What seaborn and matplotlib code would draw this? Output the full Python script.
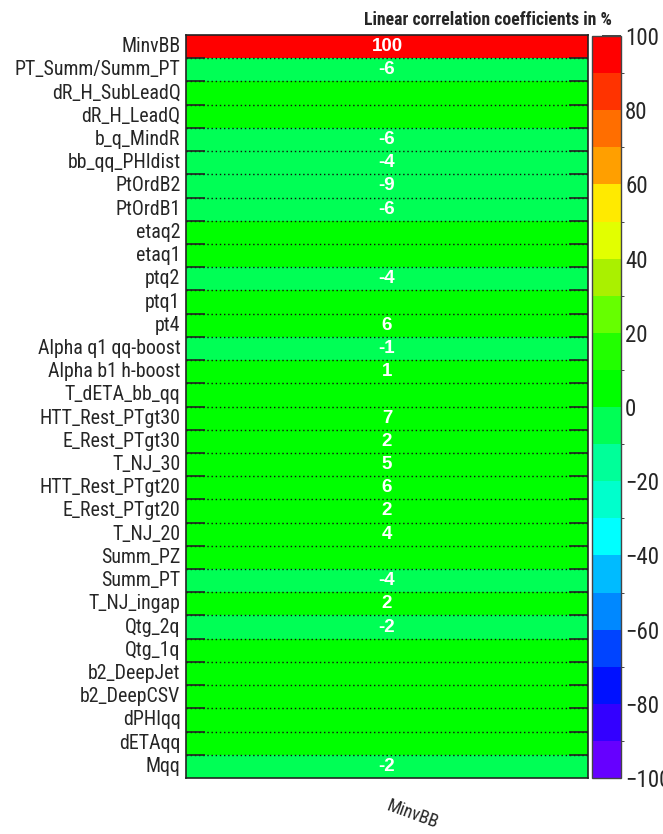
import numpy as np
import pandas as pd
import matplotlib
matplotlib.use("Agg")
import matplotlib.pyplot as plt
from matplotlib.colors import ListedColormap, BoundaryNorm
from matplotlib.ticker import FixedLocator
import seaborn as sns

variables = ["MinvBB", "PT_Summ/Summ_PT", "dR_H_SubLeadQ", "dR_H_LeadQ", "b_q_MindR",
             "bb_qq_PHIdist", "PtOrdB2", "PtOrdB1", "etaq2", "etaq1", "ptq2", "ptq1", "pt4",
             "Alpha q1 qq-boost", "Alpha b1 h-boost", "T_dETA_bb_qq", "HTT_Rest_PTgt30",
             "E_Rest_PTgt30", "T_NJ_30", "HTT_Rest_PTgt20", "E_Rest_PTgt20", "T_NJ_20",
             "Summ_PZ", "Summ_PT", "T_NJ_ingap", "Qtg_2q", "Qtg_1q", "b2_DeepJet",
             "b2_DeepCSV", "dPHIqq", "dETAqq", "Mqq"]
corr_minvbb = [100, -6, 0, 0, -6, -4, -9, -6, 0, 0, -4, 0, 6, -1, 1, 0, 7, 2, 5, 6, 2, 4,
               0, -4, 2, -2, 0, 0, 0, 0, 0, -2]
column = ["MinvBB"]
palette_colors = ["#6600FF", "#3300FF", "#0011FF", "#0044FF", "#0088FF", "#00BBFF",
                  "#00FFFF", "#00FFCC", "#00FF99", "#00FF55", "#00FF00", "#22FF00",
                  "#66FF00", "#AAF000", "#E2FF00", "#FFEA00", "#FF9F00", "#FF6E00",
                  "#FF3300", "#FF0000"]
levels = list(range(-100, 101, 10))
cbar_ticks = [-100, -80, -60, -40, -20, 0, 20, 40, 60, 80, 100]

FONT = ["Roboto Condensed", "Liberation Sans", "DejaVu Sans"]
CELLFONT = ["Liberation Sans", "DejaVu Sans"]
sns.set_style("white")
plt.rcParams["font.family"] = FONT
plt.rcParams["axes.unicode_minus"] = True

df = pd.DataFrame({column[0]: corr_minvbb}, index=variables)
annot = np.array([[("" if v == 0 else str(v))] for v in corr_minvbb])

cmap = ListedColormap(palette_colors)
norm = BoundaryNorm(levels, cmap.N)

fig = plt.figure(figsize=(6.63, 8.34), dpi=100)
ax = fig.add_axes([186 / 663, 1 - 778 / 834, (588 - 186) / 663, (778 - 35) / 834])
cax = fig.add_axes([592 / 663, 1 - 778 / 834, (621 - 592) / 663, (778 - 36) / 834])

sns.heatmap(df, ax=ax, cmap=cmap, norm=norm, annot=annot, fmt="",
            annot_kws={"color": "white", "fontsize": 13.5, "fontweight": "bold",
                       "family": CELLFONT},
            cbar=True, cbar_ax=cax, cbar_kws={"ticks": cbar_ticks})

n = len(variables)
ax.set_xticks([])
ax.set_xlabel("")
ax.set_ylabel("")
ax.set_yticks(np.arange(n) + 0.5)
ax.set_yticklabels(variables, rotation=0, fontsize=14.3)
ax.tick_params(axis="y", which="major", length=0, pad=4)
ax.yaxis.set_minor_locator(FixedLocator(np.arange(1, n)))
ax.tick_params(axis="y", which="minor", direction="in", length=14, width=1.2,
               left=True, right=True, color="#222222")
ax.grid(which="minor", axis="y", linestyle=(0, (1, 2)), color="#111111", linewidth=1)
ax.set_axisbelow(False)
for s in ax.spines.values():
    s.set_visible(True)
    s.set_color("#222222")
    s.set_linewidth(1.2)

cax.tick_params(direction="in", length=14, width=1.2, labelsize=16.5, color="#222222", pad=3)
cax.set_yticklabels([str(t).replace("-", "\u2212") for t in cbar_ticks])
cb = ax.collections[0].colorbar
cb.outline.set_edgecolor("#444444")
cb.outline.set_linewidth(1)

fig.text(612 / 663, 1 - 20 / 834, "Linear correlation coefficients in %",
         ha="right", va="center", fontsize=12.8, fontweight="bold")
fig.text(413 / 663, 1 - 814 / 834, "MinvBB", ha="center", va="center",
         rotation=-20, fontsize=13)

fig.savefig("out.png", dpi=100)
